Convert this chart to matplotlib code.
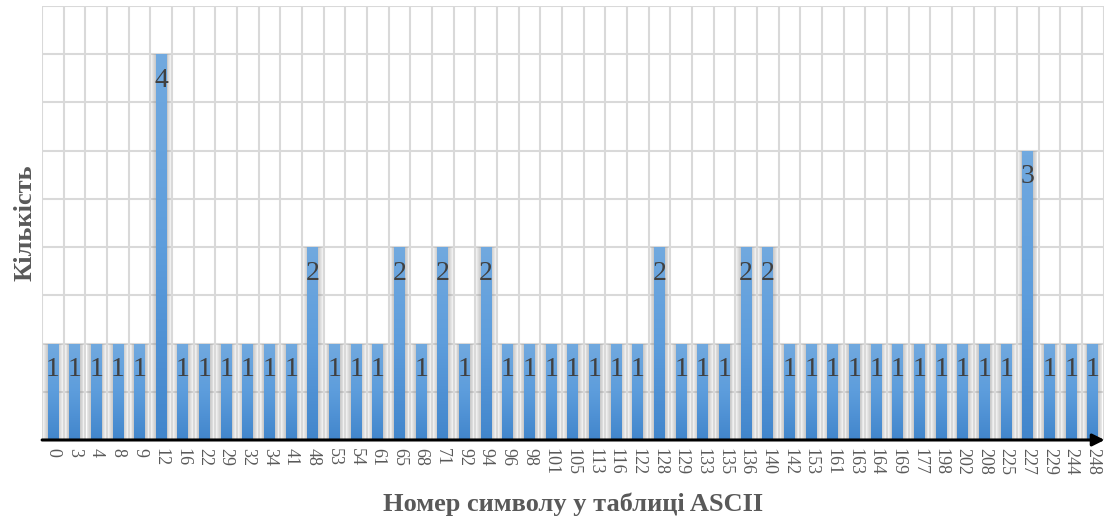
import numpy as np
import matplotlib
matplotlib.use("Agg")
import matplotlib.pyplot as plt
from matplotlib.colors import LinearSegmentedColormap

plt.rcParams['font.family'] = ['Liberation Serif', 'DejaVu Serif']

codes = ["0", "3", "4", "8", "9", "12", "16", "22", "29", "32", "34", "41", "48",
         "53", "54", "61", "65", "68", "71", "92", "94", "96", "98", "101", "105",
         "113", "116", "122", "128", "129", "133", "135", "136", "140", "142", "153",
         "161", "163", "164", "169", "177", "198", "202", "208", "225", "227", "229",
         "244", "248"]
counts = [1, 1, 1, 1, 1, 4, 1, 1, 1, 1, 1, 1, 2,
          1, 1, 1, 2, 1, 2, 1, 2, 1, 1, 1, 1,
          1, 1, 1, 2, 1, 1, 1, 2, 2, 1, 1,
          1, 1, 1, 1, 1, 1, 1, 1, 1, 3, 1,
          1, 1]

x = np.arange(len(codes))
ymax = 4.5
width = 0.5

fig = plt.figure(figsize=(11.08, 5.21), dpi=100)
ax = fig.add_axes([0.038, 0.1555, 0.958, 0.833])
ax.set_xlim(-0.5, len(codes) - 0.5)
ax.set_ylim(0, ymax)

# grid: horizontal every 0.5, vertical on category boundaries
for yv in np.arange(0.5, ymax + 0.01, 0.5):
    ax.axhline(yv, color="#d9d9d9", lw=1.5, zorder=0)
for xv in np.arange(-0.5, len(codes), 1.0):
    ax.axvline(xv, color="#d9d9d9", lw=1.5, zorder=0)

# soft grey shadow around each bar
for k in range(5):
    ax.bar(x, counts, width=width + 0.08 * (k + 1), color="#8c8c8c",
           alpha=0.11, linewidth=0, zorder=1)

bars = ax.bar(x, counts, width=width, color="#5b9bd5", linewidth=0, zorder=2)

# vertical gradient inside each bar: lighter at the top
grad = LinearSegmentedColormap.from_list("bar", ["#4286cc", "#5d9ddc", "#71a9df"])
g = np.linspace(0, 1, 64).reshape(-1, 1)
for b in bars:
    x0 = b.get_x()
    h = b.get_height()
    im = ax.imshow(g, cmap=grad, origin="lower", aspect="auto",
                   extent=(x0, x0 + b.get_width(), 0, h), zorder=3)
    im.set_clip_path(b)

for xi, v in zip(x, counts):
    ax.text(xi, v - 0.27, str(v), ha="center", va="center", fontsize=20,
            color="#404040", zorder=4)

ax.set_xticks(x)
ax.set_xticklabels(codes, rotation=-90, fontsize=13, color="#595959", va="top")
ax.tick_params(axis="x", length=0, pad=6)
ax.set_yticks([])
for s in ax.spines.values():
    s.set_visible(False)

# x axis drawn as an arrow
ax.annotate("", xy=(len(codes) - 0.45, 0), xytext=(-0.5, 0),
            xycoords="data", textcoords="data",
            arrowprops=dict(arrowstyle="-|>", color="black", lw=2.2,
                            mutation_scale=18, shrinkA=0, shrinkB=0),
            annotation_clip=False, zorder=5)

ax.set_xlabel("Номер символу у таблиці ASCII", fontsize=19, fontweight="bold",
              color="#595959", labelpad=12)
ax.set_ylabel("Кількість", fontsize=19, fontweight="bold", color="#595959",
              labelpad=4)

fig.savefig("out.png", dpi=100)
